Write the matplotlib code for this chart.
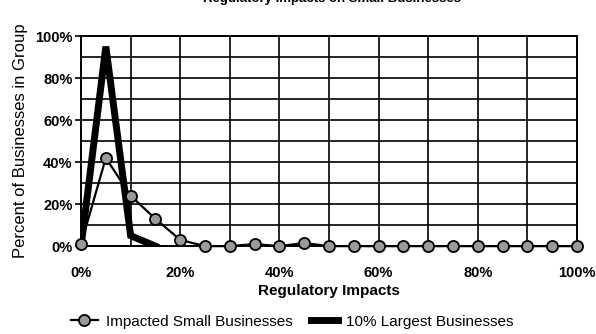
import numpy as np
import matplotlib
matplotlib.use("Agg")
import matplotlib.pyplot as plt

# datos
impacto_peq = [0, 5, 10, 15, 20, 25, 30, 35, 40, 45, 50, 55, 60, 65, 70, 75, 80, 85, 90, 95, 100]
pct_peq = [1, 42, 24, 13, 3, 0, 0, 1, 0, 1.5, 0, 0, 0, 0, 0, 0, 0, 0, 0, 0, 0]
impacto_grandes = [0, 5, 10, 15]
pct_grandes = [0, 95, 5, 0]

xticks = [0, 20, 40, 60, 80, 100]
yticks = [0, 20, 40, 60, 80, 100]

plt.rcParams['font.family'] = ['Liberation Sans', 'DejaVu Sans']

fig = plt.figure(figsize=(5.96, 3.34), dpi=100)
ax = fig.add_axes([0.136, 0.263, 0.832, 0.629])

ax.plot(impacto_grandes, pct_grandes, color="black", linewidth=5,
        solid_joinstyle="miter", label="10% Largest Businesses", zorder=4)
ax.plot(impacto_peq, pct_peq, color="black", linewidth=1.6, marker="o",
        markersize=8, markerfacecolor="#9a9a9a", markeredgecolor="black",
        markeredgewidth=1.3, label="Impacted Small Businesses", zorder=5,
        clip_on=False)

ax.set_xlim(0, 100)
ax.set_ylim(0, 100)
ax.set_xticks(xticks)
ax.set_xticklabels([f"{v}%" for v in xticks], fontweight="bold", fontsize=10.5)
ax.set_yticks(yticks)
ax.set_yticklabels([f"{v}%" for v in yticks], fontweight="bold", fontsize=10.5)
ax.set_xticks(np.arange(0, 101, 10), minor=True)
ax.set_yticks(np.arange(0, 101, 10), minor=True)
ax.grid(True, which="both", color="black", linewidth=1.2)
ax.tick_params(axis="x", which="both", length=0, pad=14)
ax.tick_params(axis="y", which="major", length=4, width=1.2, pad=2)
ax.tick_params(axis="y", which="minor", length=0)
for s in ax.spines.values():
    s.set_linewidth(1.4)

ax.set_xlabel("Regulatory Impacts", fontweight="bold", fontsize=11, labelpad=3)
ax.set_ylabel("Percent of Businesses in Group", fontsize=12, labelpad=5)

# titulo cortado en la parte superior (como en el original)
fig.text(0.557, 0.993, "Regulatory Impacts on Small Businesses", ha="center",
         va="baseline", fontsize=9.5, fontweight="bold")

h, l = ax.get_legend_handles_labels()
fig.legend(h[::-1], l[::-1], loc="lower center", bbox_to_anchor=(0.49, -0.025),
           ncol=2, frameon=False, fontsize=11, handlelength=1.8,
           columnspacing=1.2, handletextpad=0.5)

plt.savefig("out.png", dpi=100)
